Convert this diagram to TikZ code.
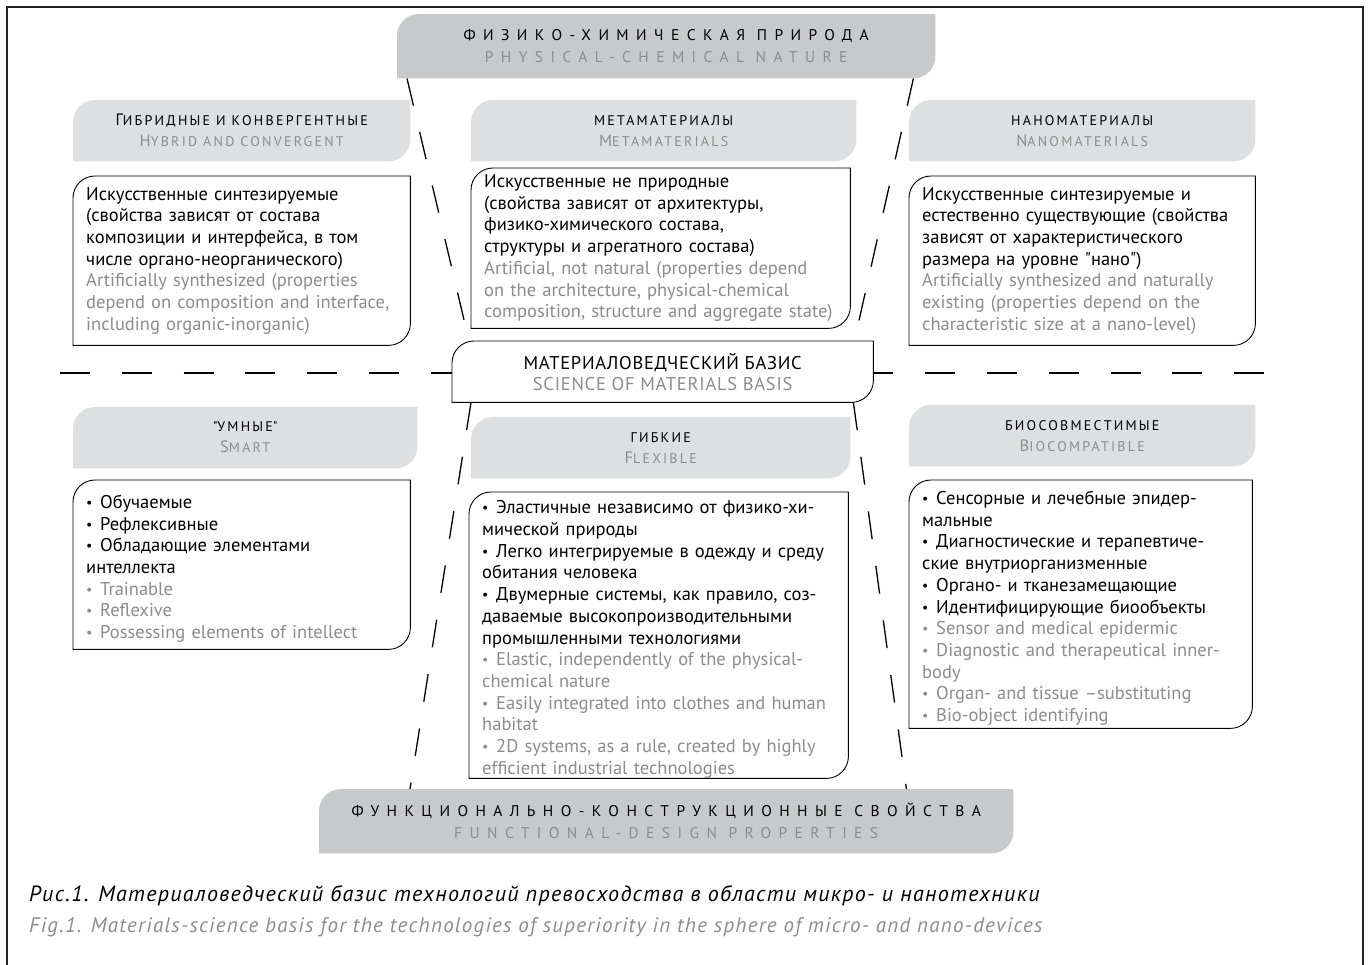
\documentclass[tikz,border=0pt]{standalone}
\usepackage{fontspec}
\setmainfont{PT Sans}
\newfontfamily\spacedfont[LetterSpace=48]{PT Sans}
\newfontfamily\capsfont[LetterSpace=16]{PT Sans}
\newfontfamily\basisfont[LetterSpace=4]{PT Sans}
\newfontfamily\capfont[LetterSpace=6]{PT Sans}
\usepackage{xcolor}
\usetikzlibrary{calc,positioning}
\definecolor{tabgrey}{HTML}{C8C9CB}
\definecolor{headgrey}{HTML}{DEDFE0}
\definecolor{engrey}{HTML}{8C8C8C}
\definecolor{framegrey}{HTML}{222222}
\pgfdeclarelayer{background}
\pgfsetlayers{background,main}
\newcommand{\smc}[1]{{\fontsize{14}{21}\selectfont #1}}
\newcommand{\itm}{\par\noindent\hangindent=14pt\hangafter=1\makebox[14pt][l]{\raisebox{1pt}{\fontsize{14}{14}\selectfont\textbullet}}}
\newcommand{\cornerbox}[3]{%
	\path[#1] (#2.south west) -- ($(#2.north west)+(0,#3)$)
		arc[start angle=180, end angle=90, radius=#3pt] -- (#2.north east)
		-- ($(#2.south east)+(0,-#3)$) arc[start angle=0, end angle=-90, radius=#3pt] -- cycle;}
\tikzset{%
	tab/.style      = {anchor=north west, inner sep=0pt, align=center, font=\spacedfont\fontsize{15.5}{22}\selectfont},
	head/.style     = {anchor=north west, minimum height=61, inner sep=0pt, align=center, font=\capsfont\fontsize{16.5}{21}\selectfont},
	card/.style     = {anchor=north west, inner xsep=13, inner ysep=0pt, align=left, font=\fontsize{18.5}{21.7}\selectfont},
	basisbox/.style = {anchor=north west, inner sep=0pt, align=center, font=\basisfont\fontsize{18.5}{21}\selectfont},
	caption/.style  = {anchor=west, inner sep=0pt, font=\capfont\itshape\fontsize{22}{28}\selectfont},
	guide/.style    = {line width=1.3pt, dash pattern=on 28pt off 27pt},
	divider/.style  = {line width=1.5pt, dash pattern=on 30pt off 31.8pt},
}

\begin{document}
\begin{tikzpicture}[x=1pt, y=-1pt]
	\useasboundingbox (0,0) rectangle (1369,965);
	\draw[line width=1.2pt, framegrey] (7,966) -- (7,7) -- (1363,7) -- (1363,966);

	\node[tab, minimum width=538, minimum height=64] (nature) at (397,14)
		{ФИЗИКО-ХИМИЧЕСКАЯ ПРИРОДА\\\color{engrey}PHYSICAL-CHEMICAL NATURE};

	\node[head, minimum width=337] (hybridh) at (73,100)
		{Г\smc{ИБРИДНЫЕ И КОНВЕРГЕНТНЫЕ}\\\color{engrey}H\smc{YBRID AND CONVERGENT}};
	\node[head, minimum width=385] (metah) at (471,100)
		{\smc{МЕТАМАТЕРИАЛЫ}\\\color{engrey}M\smc{ETAMATERIALS}};
	\node[head, minimum width=346] (nanoh) at (909,100)
		{\smc{НАНОМАТЕРИАЛЫ}\\\color{engrey}N\smc{ANOMATERIALS}};

	\node[card, text width=311, minimum height=169] (hybridb) at (73,176)
		{Искусственные синтезируемые\\
		(свойства зависят от состава\\
		композиции и интерфейса, в том\\
		числе органо-неорганического)\\
		\color{engrey}Artificially synthesized (properties\\
		depend on composition and interface,\\
		including organic-inorganic)};
	\node[card, text width=353, minimum height=160] (metab) at (471,168)
		{Искусственные не природные\\
		(свойства зависят от архитектуры,\\
		физико-химического состава,\\
		структуры и агрегатного состава)\\
		\color{engrey}Artificial, not natural (properties depend\\
		on the architecture, physical-chemical\\
		composition, structure and aggregate state)};
	\node[card, text width=320, minimum height=169] (nanob) at (909,176)
		{Искусственные синтезируемые и\\
		естественно существующие (свойства\\
		зависят от характеристического\\
		размера на уровне \textquotedbl нано\textquotedbl)\\
		\color{engrey}Artificially synthesized and naturally\\
		existing (properties depend on the\\
		characteristic size at a nano-level)};

	\node[basisbox, minimum width=421, minimum height=61] (basis) at (452,341)
		{МАТЕРИАЛОВЕДЧЕСКИЙ БАЗИС\\\color{engrey}SCIENCE OF MATERIALS BASIS};

	\node[head, minimum width=344] (smarth) at (73,407)
		{\smc{\textquotedbl УМНЫЕ\textquotedbl}\\\color{engrey}S\smc{MART}};
	\node[head, minimum width=379] (flexh) at (471,417)
		{\smc{ГИБКИЕ}\\\color{engrey}F\smc{LEXIBLE}};
	\node[head, minimum width=346] (bioh) at (909,405)
		{\smc{БИОСОВМЕСТИМЫЕ}\\\color{engrey}B\smc{IOCOMPATIBLE}};

	\node[card, text width=311, minimum height=169] (smartb) at (73,480)
		{\itm Обучаемые
		\itm Рефлексивные
		\itm Обладающие элементами\\интеллекта
		\color{engrey}
		\itm Trainable
		\itm Reflexive
		\itm Possessing elements of intellect};
	\node[card, text width=353, minimum height=286] (flexb) at (469,492)
		{\itm Эластичные независимо от физико-хи-\\мической природы
		\itm Легко интегрируемые в одежду и среду\\обитания человека
		\itm Двумерные системы, как правило, соз-\\даваемые высокопроизводительными\\промышленными технологиями
		\color{engrey}
		\itm Elastic, independently of the physical-\\chemical nature
		\itm Easily integrated into clothes and human\\habitat
		\itm 2D systems, as a rule, created by highly\\efficient industrial technologies};
	\node[card, text width=317, minimum height=248] (biob) at (909,480)
		{\itm Сенсорные и лечебные эпидер-\\мальные
		\itm Диагностические и терапевтиче-\\ские внутриорганизменные
		\itm Органо- и тканезамещающие
		\itm Идентифицирующие биообъекты
		\color{engrey}
		\itm Sensor and medical epidermic
		\itm Diagnostic and therapeutical inner-\\body
		\itm Organ- and tissue –substituting
		\itm Bio-object identifying};

	\node[tab, minimum width=694, minimum height=64] (props) at (319,789)
		{ФУНКЦИОНАЛЬНО-КОНСТРУКЦИОННЫЕ СВОЙСТВА\\\color{engrey}FUNCTIONAL-DESIGN PROPERTIES};

	\node[caption] (caprus) at (29,896)
		{Рис.1. Материаловедческий базис технологий превосходства в области микро- и нанотехники};
	\node[caption, engrey, font=\capfont\itshape\fontsize{21}{28}\selectfont] (capeng) at (29,927)
		{Fig.1. Materials-science basis for the technologies of superiority in the sphere of micro- and nano-devices};

	\begin{pgfonlayer}{background}
		\coordinate (divl) at (60,373);
		\coordinate (divr) at (1265,373);
		\draw[divider] (divl) -- (divr);
		\draw[guide] ($(nature.south west)+(10,0)$) -- ($(basis.north west)+(17,0)$);
		\draw[guide] ($(nature.south east)+(-22,0)$) -- ($(basis.north east)+(-19,0)$);
		\draw[guide] ($(basis.south west)+(19,0)$) -- ($(props.north west)+(91,0)$);
		\draw[guide] ($(basis.south east)+(-20,0)$) -- ($(props.north east)+(-107,0)$);
		\cornerbox{fill=tabgrey}{nature}{22}
		\cornerbox{fill=tabgrey}{props}{22}
		\foreach \n in {hybridh,metah,nanoh,smarth,flexh,bioh}
			{\cornerbox{fill=headgrey}{\n}{22}}
		\foreach \n in {hybridb,metab,nanob,basis,smartb,flexb,biob}
			{\cornerbox{draw, fill=white, line width=0.9pt}{\n}{22}}
	\end{pgfonlayer}
\end{tikzpicture}
\end{document}
